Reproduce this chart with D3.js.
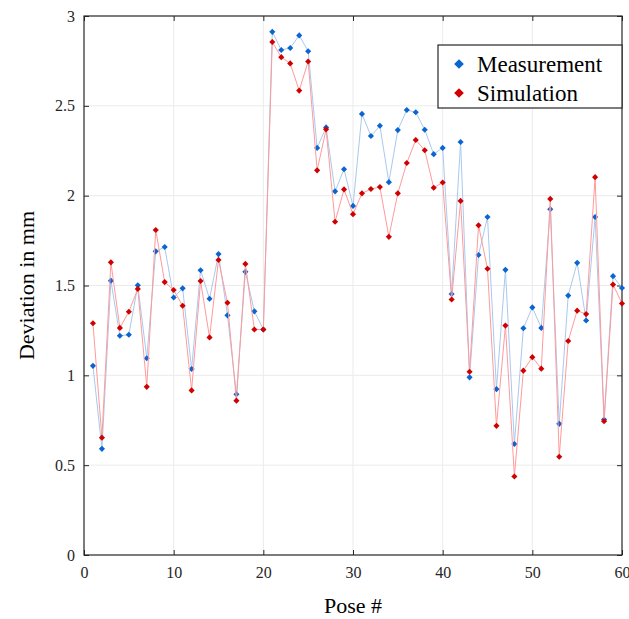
<!DOCTYPE html>
<html>
<head>
<meta charset="utf-8">
<script src="https://cdn.jsdelivr.net/npm/d3@7"></script>
<style>
  body { margin: 0; background: #fff; }
  svg { display: block; font-family: "Liberation Serif", "DejaVu Serif", serif; }
</style>
</head>
<body>
<div id="chart"></div>
<script>
// Deviation per pose - measurement vs simulation

const poses = d3.range(1, 61);

const measurement = [
  1.053, 0.591, 1.527, 1.220, 1.226, 1.501, 1.095, 1.690, 1.714, 1.433,
  1.484, 1.035, 1.585, 1.426, 1.675, 1.334, 0.895, 1.576, 1.356, 1.255,
  2.912, 2.811, 2.822, 2.892, 2.804, 2.266, 2.380, 2.024, 2.147, 1.943,
  2.455, 2.332, 2.389, 2.075, 2.365, 2.477, 2.464, 2.367, 2.231, 2.266,
  1.453, 2.299, 0.989, 1.670, 1.881, 0.923, 1.587, 0.618, 1.262, 1.378,
  1.264, 1.925, 0.730, 1.444, 1.626, 1.305, 1.881, 0.754, 1.552, 1.486
];

const simulation = [
  1.290, 0.653, 1.629, 1.264, 1.354, 1.481, 0.936, 1.809, 1.519, 1.475,
  1.387, 0.916, 1.525, 1.211, 1.642, 1.404, 0.859, 1.620, 1.255, 1.255,
  2.855, 2.771, 2.736, 2.585, 2.747, 2.141, 2.369, 1.855, 2.035, 1.897,
  2.013, 2.037, 2.048, 1.771, 2.013, 2.182, 2.310, 2.253, 2.044, 2.073,
  1.422, 1.971, 1.020, 1.835, 1.593, 0.719, 1.277, 0.437, 1.026, 1.101,
  1.037, 1.982, 0.547, 1.191, 1.360, 1.341, 2.103, 0.745, 1.505, 1.400
];

const xTicks = [0, 10, 20, 30, 40, 50, 60];
const yTicks = [0, 0.5, 1, 1.5, 2, 2.5, 3];

const seriesNames = ["Measurement", "Simulation"];

const width = 629;
const height = 619;
const margin = {top: 16, right: 7, bottom: 64, left: 84};

const svg = d3.select("#chart")
  .append("svg")
  .attr("width", width)
  .attr("height", height);

const innerWidth = width - margin.left - margin.right;
const innerHeight = height - margin.top - margin.bottom;

const g = svg.append("g")
  .attr("transform", `translate(${margin.left}, ${margin.top})`);

const x = d3.scaleLinear().domain([0, 60]).range([0, innerWidth]);
const y = d3.scaleLinear().domain([0, 3]).range([innerHeight, 0]);

// grid
g.append("g")
  .selectAll("line")
  .data(xTicks.slice(1, -1))
  .join("line")
  .attr("x1", d => x(d)).attr("x2", d => x(d))
  .attr("y1", 0).attr("y2", innerHeight)
  .attr("stroke", "#ebebeb").attr("stroke-width", 1);

g.append("g")
  .selectAll("line")
  .data(yTicks.slice(1, -1))
  .join("line")
  .attr("x1", 0).attr("x2", innerWidth)
  .attr("y1", d => y(d)).attr("y2", d => y(d))
  .attr("stroke", "#ebebeb").attr("stroke-width", 1);

// axes with inward ticks
const tickFmt = d3.format("");
const styleAxis = sel => {
  sel.select(".domain").remove();
  sel.selectAll(".tick line").attr("stroke", "#262626");
  sel.selectAll(".tick text")
    .attr("fill", "#262626")
    .style("font-size", "16px")
    .style("font-family", "'Liberation Serif', serif");
};
const noText = sel => {
  sel.select(".domain").remove();
  sel.selectAll(".tick line").attr("stroke", "#262626");
  sel.selectAll(".tick text").remove();
};

g.append("g")
  .attr("transform", `translate(0, ${innerHeight})`)
  .call(d3.axisBottom(x).tickValues(xTicks).tickFormat(tickFmt).tickSizeInner(-5).tickPadding(12))
  .call(styleAxis);

g.append("g")
  .call(d3.axisTop(x).tickValues(xTicks).tickSizeInner(-5))
  .call(noText);

g.append("g")
  .call(d3.axisLeft(y).tickValues(yTicks).tickFormat(tickFmt).tickSizeInner(-5).tickPadding(9))
  .call(styleAxis);

g.append("g")
  .attr("transform", `translate(${innerWidth}, 0)`)
  .call(d3.axisRight(y).tickValues(yTicks).tickSizeInner(-5))
  .call(noText);

g.append("rect")
  .attr("width", innerWidth)
  .attr("height", innerHeight)
  .attr("fill", "none")
  .attr("stroke", "#262626")
  .attr("stroke-width", 1.2);

// series
const series = [
  {name: seriesNames[0], values: measurement, line: "#a9c9ee", mark: "#0a64d2"},
  {name: seriesNames[1], values: simulation, line: "#ff9a9a", mark: "#d10000"}
];

const line = d3.line()
  .x((d, i) => x(poses[i]))
  .y(d => y(d));

const diamond = d3.symbol().type(d3.symbolDiamond2).size(24);

series.forEach(s => {
  g.append("path")
    .datum(s.values)
    .attr("fill", "none")
    .attr("stroke", s.line)
    .attr("stroke-width", 1)
    .attr("d", line);

  g.append("g")
    .selectAll("path")
    .data(s.values)
    .join("path")
    .attr("transform", (d, i) => `translate(${x(poses[i])}, ${y(d)})`)
    .attr("d", diamond)
    .attr("fill", s.mark);
});

// legend
const legend = svg.append("g")
  .attr("transform", "translate(438, 45)");

legend.append("rect")
  .attr("width", 184)
  .attr("height", 63)
  .attr("fill", "#fff")
  .attr("stroke", "#262626")
  .attr("stroke-width", 1.2);

const legSymbol = d3.symbol().type(d3.symbolDiamond2).size(60);

series.forEach((s, i) => {
  const row = legend.append("g")
    .attr("transform", `translate(0, ${19 + i * 29})`);
  row.append("path")
    .attr("transform", "translate(21, 0)")
    .attr("d", legSymbol)
    .attr("fill", s.mark);
  row.append("text")
    .attr("x", 39)
    .attr("y", 8)
    .attr("fill", "#000")
    .style("font-size", "23px")
    .text(s.name);
});

// axis titles
svg.append("text")
  .attr("x", margin.left + innerWidth / 2)
  .attr("y", 613)
  .attr("text-anchor", "middle")
  .style("font-size", "22px")
  .attr("fill", "#000")
  .text("Pose #");

svg.append("text")
  .attr("transform", `translate(34, ${margin.top + innerHeight / 2}) rotate(-90)`)
  .attr("text-anchor", "middle")
  .style("font-size", "22px")
  .attr("fill", "#000")
  .text("Deviation in mm");
</script>
</body>
</html>
